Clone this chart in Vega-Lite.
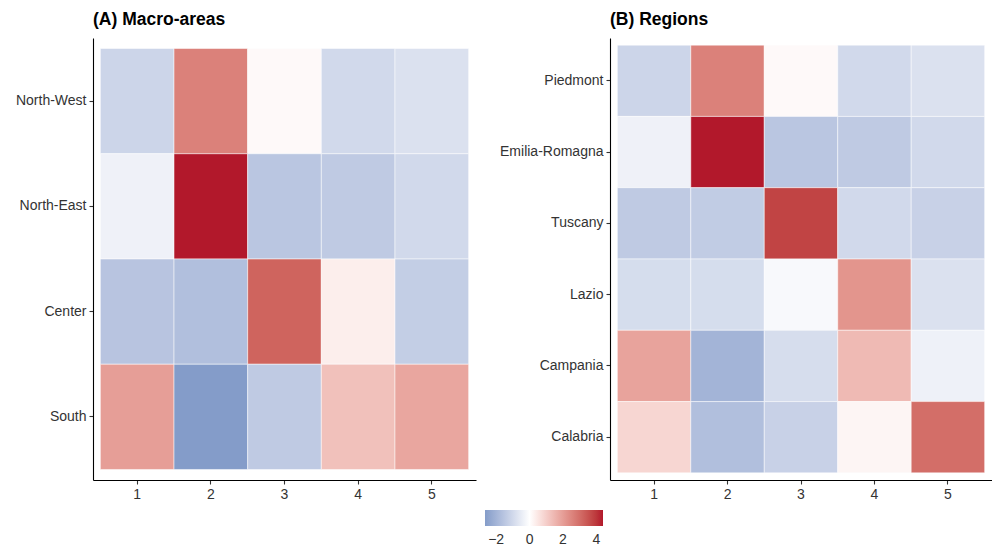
{
  "$schema": "https://vega.github.io/schema/vega-lite/v6.json",
  "background": "white",
  "padding": {"left": 15, "top": 10, "right": 0, "bottom": 0},
  "spacing": 23,
  "config": {
    "font": "Liberation Sans",
    "view": {"stroke": null},
    "axis": {
      "grid": false,
      "domainColor": "black",
      "domainWidth": 1.1,
      "tickColor": "#333333",
      "tickSize": 4,
      "tickWidth": 1.1,
      "labelFontSize": 14,
      "labelColor": "#333333",
      "labelPadding": 3,
      "title": null
    },
    "title": {"anchor": "start", "frame": "group", "fontSize": 17.5, "fontWeight": "bold", "color": "black", "offset": 10}
  },
  "datasets": {
    "macro": [
      {"area": "North-West", "k": 1, "value": -1.1},
      {"area": "North-West", "k": 2, "value": 2.6},
      {"area": "North-West", "k": 3, "value": 0.12},
      {"area": "North-West", "k": 4, "value": -1.0},
      {"area": "North-West", "k": 5, "value": -0.78},
      {"area": "North-East", "k": 1, "value": -0.35},
      {"area": "North-East", "k": 2, "value": 4.4},
      {"area": "North-East", "k": 3, "value": -1.5},
      {"area": "North-East", "k": 4, "value": -1.4},
      {"area": "North-East", "k": 5, "value": -1.0},
      {"area": "Center", "k": 1, "value": -1.55},
      {"area": "Center", "k": 2, "value": -1.7},
      {"area": "Center", "k": 3, "value": 3.2},
      {"area": "Center", "k": 4, "value": 0.35},
      {"area": "Center", "k": 5, "value": -1.3},
      {"area": "South", "k": 1, "value": 2.0},
      {"area": "South", "k": 2, "value": -2.67},
      {"area": "South", "k": 3, "value": -1.4},
      {"area": "South", "k": 4, "value": 1.28},
      {"area": "South", "k": 5, "value": 1.85}
    ],
    "regions": [
      {"area": "Piedmont", "k": 1, "value": -1.1},
      {"area": "Piedmont", "k": 2, "value": 2.6},
      {"area": "Piedmont", "k": 3, "value": 0.12},
      {"area": "Piedmont", "k": 4, "value": -1.0},
      {"area": "Piedmont", "k": 5, "value": -0.78},
      {"area": "Emilia-Romagna", "k": 1, "value": -0.35},
      {"area": "Emilia-Romagna", "k": 2, "value": 4.4},
      {"area": "Emilia-Romagna", "k": 3, "value": -1.5},
      {"area": "Emilia-Romagna", "k": 4, "value": -1.4},
      {"area": "Emilia-Romagna", "k": 5, "value": -1.0},
      {"area": "Tuscany", "k": 1, "value": -1.4},
      {"area": "Tuscany", "k": 2, "value": -1.35},
      {"area": "Tuscany", "k": 3, "value": 3.8},
      {"area": "Tuscany", "k": 4, "value": -1.0},
      {"area": "Tuscany", "k": 5, "value": -1.2},
      {"area": "Lazio", "k": 1, "value": -0.9},
      {"area": "Lazio", "k": 2, "value": -0.9},
      {"area": "Lazio", "k": 3, "value": -0.15},
      {"area": "Lazio", "k": 4, "value": 2.2},
      {"area": "Lazio", "k": 5, "value": -0.78},
      {"area": "Campania", "k": 1, "value": 1.9},
      {"area": "Campania", "k": 2, "value": -2.0},
      {"area": "Campania", "k": 3, "value": -0.88},
      {"area": "Campania", "k": 4, "value": 1.42},
      {"area": "Campania", "k": 5, "value": -0.37},
      {"area": "Calabria", "k": 1, "value": 0.85},
      {"area": "Calabria", "k": 2, "value": -1.7},
      {"area": "Calabria", "k": 3, "value": -1.2},
      {"area": "Calabria", "k": 4, "value": 0.2},
      {"area": "Calabria", "k": 5, "value": 3.0}
    ]
  },
  "resolve": {"scale": {"color": "shared"}},
  "hconcat": [
    {
      "title": "(A) Macro-areas",
      "width": 383,
      "height": 442,
      "data": {"name": "macro"},
      "mark": {"type": "rect", "stroke": "white", "strokeWidth": 0.5},
      "encoding": {
        "x": {"field": "k", "type": "ordinal", "scale": {"paddingInner": 0, "paddingOuter": 0.1}, "axis": {"labelAngle": 0}},
        "y": {"field": "area", "type": "nominal", "sort": ["North-West", "North-East", "Center", "South"], "scale": {"paddingInner": 0, "paddingOuter": 0.1}},
        "color": {
          "field": "value", "type": "quantitative",
          "scale": {"domain": [-2.67, 0, 4.4], "range": ["#849cc9", "#ffffff", "#b2182b"], "interpolate": "lab"},
          "legend": {"orient": "none", "legendX": 392, "legendY": 472, "direction": "horizontal", "title": null, "gradientLength": 118, "gradientThickness": 16, "values": [-2, 0, 2, 4], "labelFontSize": 14, "labelColor": "#333333", "gradientStrokeWidth": 0, "labelOffset": 7}
        }
      }
    },
    {
      "title": "(B) Regions",
      "width": 382,
      "height": 442,
      "data": {"name": "regions"},
      "mark": {"type": "rect", "stroke": "white", "strokeWidth": 0.5},
      "encoding": {
        "x": {"field": "k", "type": "ordinal", "scale": {"paddingInner": 0, "paddingOuter": 0.1}, "axis": {"labelAngle": 0}},
        "y": {"field": "area", "type": "nominal", "sort": ["Piedmont", "Emilia-Romagna", "Tuscany", "Lazio", "Campania", "Calabria"], "scale": {"paddingInner": 0, "paddingOuter": 0.1}},
        "color": {"field": "value", "type": "quantitative"}
      }
    }
  ]
}
